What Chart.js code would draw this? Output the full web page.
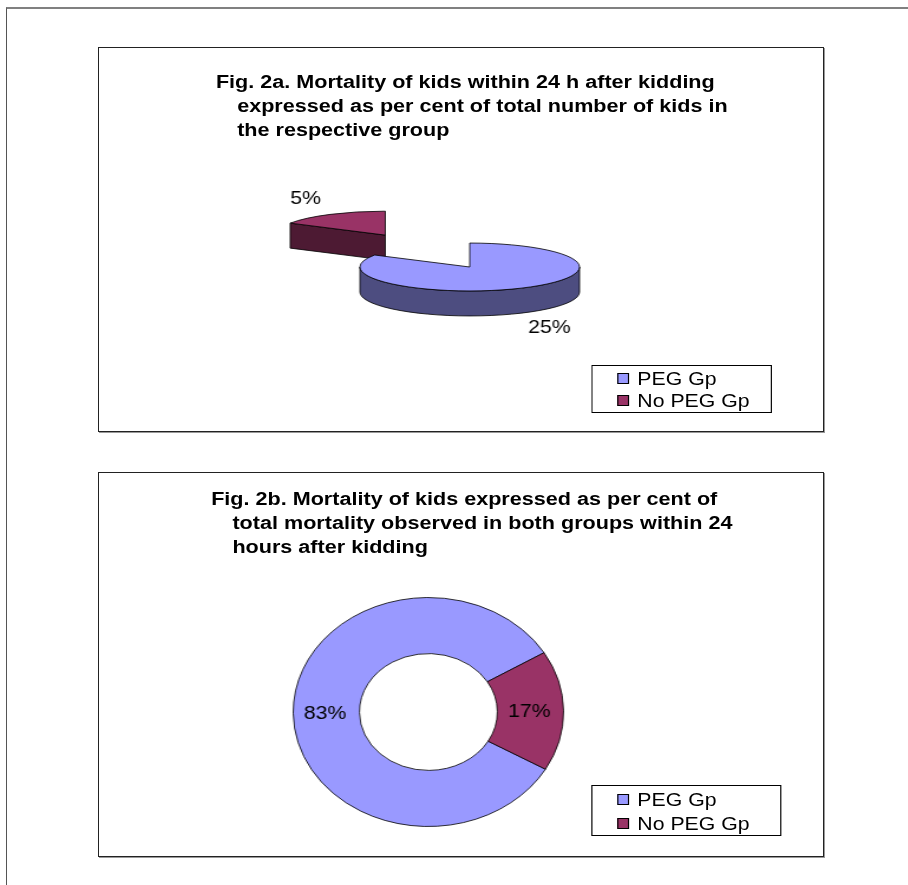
<!DOCTYPE html>
<html>
<head>
<meta charset="utf-8">
<script src="https://cdn.jsdelivr.net/npm/chart.js@4.4.1/dist/chart.umd.min.js"></script>
<style>
  html, body { margin: 0; padding: 0; background: #fff; }
  body { width: 908px; height: 885px; position: relative; overflow: hidden; font-family: "Liberation Sans", Arial, sans-serif; }
  .frame { position: absolute; left: 6px; top: 7px; width: 910px; height: 900px; border-top: 2px solid #808080; border-left: 1px solid #555; }
  .box { position: absolute; left: 98px; width: 724px; height: 383px; border: 1px solid #222; box-shadow: 1px 1px 0 #999; background: #fff; }
  .stage { position: absolute; left: 0; top: 0; width: 614px; height: 384px; transform: scaleX(1.1806); transform-origin: 0 0; }
  .title { position: absolute; font-weight: bold; font-size: 18.3px; line-height: 24px; color: #000; white-space: nowrap; }
  .title div + div { padding-left: 18px; }
  .stage canvas { position: absolute; }
  .legend { position: absolute; border: 1px solid #000; box-sizing: border-box; font-size: 18px; color: #000; }
  .legend .row { position: absolute; left: 21px; height: 20px; line-height: 20px; white-space: nowrap; }
  .legend .sw { display: inline-block; width: 8px; height: 9px; border: 1px solid #000; vertical-align: middle; margin-right: 7px; position: relative; top: -2px; }
</style>
</head>
<body>
<div class="frame"></div>

<div class="box" id="boxA" style="top:47px;">
  <div class="stage">
    <div class="title" id="titleA" style="left:99px; top:22px;"></div>
    <canvas id="pieA" width="420" height="220" style="left:104px; top:109px;"></canvas>
    <div class="legend" id="legendA" style="left:417px; top:317px; width:153px; height:48px;"></div>
  </div>
</div>

<div class="box" id="boxB" style="top:472px;">
  <div class="stage">
    <div class="title" id="titleB" style="left:95px; top:14px;"></div>
    <canvas id="pieB" width="240" height="240" style="left:159px; top:119px;"></canvas>
    <div class="legend" id="legendB" style="left:417px; top:312px; width:161px; height:51px;"></div>
  </div>
</div>

<script>
const groupLabels = ['PEG Gp', 'No PEG Gp'];
const sliceColors = ['#9999FF', '#993366'];

// Fig. 2a: mortality within each group (% of kids in the group)
const mortalityInGroup = [25, 5];
// Fig. 2b: share of the total mortality (%)
const shareOfTotal = [83, 17];

const titleA = [
  'Fig. 2a. Mortality of kids within 24 h after kidding',
  'expressed as per cent of total number of kids in',
  'the respective group'
];
const titleB = [
  'Fig. 2b. Mortality of kids expressed as per cent of',
  'total mortality observed in both groups within 24',
  'hours after kidding'
];

const LABEL_FONT = '18px "Liberation Sans", Arial, sans-serif';

function fillTitle(id, lines) {
  const el = document.getElementById(id);
  lines.forEach((line) => {
    const div = document.createElement('div');
    div.textContent = line;
    el.appendChild(div);
  });
}

function fillLegend(id, rowTops) {
  const el = document.getElementById(id);
  groupLabels.forEach((label, i) => {
    const row = document.createElement('div');
    row.className = 'row';
    row.style.top = rowTops[i] + 'px';
    row.innerHTML = `<span class="sw" style="background:${sliceColors[i]}"></span>${label}`;
    el.appendChild(row);
  });
}

function darken(hex, f) {
  const n = parseInt(hex.slice(1), 16);
  const r = Math.round(((n >> 16) & 255) * f);
  const g = Math.round(((n >> 8) & 255) * f);
  const b = Math.round((n & 255) * f);
  return `rgb(${r}, ${g}, ${b})`;
}

// flattened, extruded pie drawn from the arc elements Chart.js lays out
const pie3d = {
  id: 'pie3d',
  beforeDatasetsDraw(chart, args, opts) {
    const ctx = chart.ctx;
    const meta = chart.getDatasetMeta(0);
    const values = chart.data.datasets[0].data;
    const k = opts.tilt;
    const depth = opts.depth;

    const slices = meta.data.map((arc, i) => {
      const p = arc.getProps(['x', 'y', 'startAngle', 'endAngle', 'outerRadius'], true);
      const mid = (p.startAngle + p.endAngle) / 2;
      const off = arc.options.offset || 0;
      return {
        a: p.startAngle,
        b: p.endAngle,
        r: p.outerRadius,
        mid,
        cx: p.x + Math.cos(mid) * off,
        cy: p.y + Math.sin(mid) * off * k,
        color: arc.options.backgroundColor,
        text: values[i] + '%'
      };
    });
    slices.sort((s, t) => s.cy - t.cy);

    ctx.save();
    ctx.lineWidth = 0.8;
    ctx.strokeStyle = '#000';
    ctx.lineJoin = 'round';

    slices.forEach((s) => {
      const side = darken(s.color, 0.5);
      const pt = (ang) => [s.cx + s.r * Math.cos(ang), s.cy + k * s.r * Math.sin(ang)];

      // cut faces turned towards the viewer
      [[s.a, Math.cos(s.a) < -1e-6], [s.b, Math.cos(s.b) > 1e-6]].forEach(([ang, visible]) => {
        if (!visible) return;
        const [px, py] = pt(ang);
        ctx.beginPath();
        ctx.moveTo(s.cx, s.cy);
        ctx.lineTo(px, py);
        ctx.lineTo(px, py + depth);
        ctx.lineTo(s.cx, s.cy + depth);
        ctx.closePath();
        ctx.fillStyle = side;
        ctx.fill();
        ctx.stroke();
      });

      // front part of the rim
      for (let base = -2 * Math.PI; base <= 2 * Math.PI; base += 2 * Math.PI) {
        const from = Math.max(s.a, base);
        const to = Math.min(s.b, base + Math.PI);
        if (to <= from) continue;
        ctx.beginPath();
        ctx.ellipse(s.cx, s.cy, s.r, k * s.r, 0, from, to);
        ctx.ellipse(s.cx, s.cy + depth, s.r, k * s.r, 0, to, from, true);
        ctx.closePath();
        ctx.fillStyle = side;
        ctx.fill();
        ctx.stroke();
      }

      // top face
      ctx.beginPath();
      ctx.moveTo(s.cx, s.cy);
      ctx.ellipse(s.cx, s.cy, s.r, k * s.r, 0, s.a, s.b);
      ctx.closePath();
      ctx.fillStyle = s.color;
      ctx.fill();
      ctx.stroke();
    });

    ctx.fillStyle = '#000';
    ctx.font = LABEL_FONT;
    ctx.textAlign = 'center';
    ctx.textBaseline = 'middle';
    slices.forEach((s) => {
      const R = s.r * opts.labelRadius;
      const down = Math.sin(s.mid) > 0 ? depth + 6 : -6;
      ctx.fillText(s.text, s.cx + R * Math.cos(s.mid), s.cy + k * R * Math.sin(s.mid) + down);
    });

    ctx.restore();
    return false;
  }
};

const ringLabels = {
  id: 'ringLabels',
  afterDatasetsDraw(chart) {
    const ctx = chart.ctx;
    const meta = chart.getDatasetMeta(0);
    const values = chart.data.datasets[0].data;
    ctx.save();
    ctx.fillStyle = '#000';
    ctx.font = LABEL_FONT;
    ctx.textAlign = 'center';
    ctx.textBaseline = 'middle';
    meta.data.forEach((arc, i) => {
      const p = arc.getProps(['x', 'y', 'startAngle', 'endAngle', 'innerRadius', 'outerRadius'], true);
      const mid = (p.startAngle + p.endAngle) / 2;
      const R = (p.innerRadius + p.outerRadius) / 2;
      ctx.fillText(values[i] + '%', p.x + R * Math.cos(mid) - 1, p.y + R * Math.sin(mid) + 1);
    });
    ctx.restore();
  }
};

function initPieA() {
  new Chart(document.getElementById('pieA'), {
    type: 'pie',
    data: {
      labels: groupLabels,
      datasets: [{
        data: mortalityInGroup,
        backgroundColor: sliceColors,
        borderWidth: 0,
        offset: [0, 143]
      }]
    },
    options: {
      responsive: false,
      animation: false,
      radius: 93,
      rotation: 0,
      events: [],
      plugins: {
        legend: { display: false },
        tooltip: { enabled: false },
        pie3d: { tilt: 0.2575, depth: 25, labelRadius: 1.45 }
      }
    },
    plugins: [pie3d]
  });
}

function initPieB() {
  new Chart(document.getElementById('pieB'), {
    type: 'doughnut',
    data: {
      labels: groupLabels,
      datasets: [{
        data: shareOfTotal,
        backgroundColor: sliceColors,
        borderColor: '#000',
        borderWidth: 0.8
      }]
    },
    options: {
      responsive: false,
      animation: false,
      radius: 114.5,
      cutout: '51%',
      rotation: 120,
      events: [],
      plugins: {
        legend: { display: false },
        tooltip: { enabled: false }
      }
    },
    plugins: [ringLabels]
  });
}

fillTitle('titleA', titleA);
fillTitle('titleB', titleB);
fillLegend('legendA', [3, 25]);
fillLegend('legendB', [4, 28]);
initPieA();
initPieB();
</script>
</body>
</html>
